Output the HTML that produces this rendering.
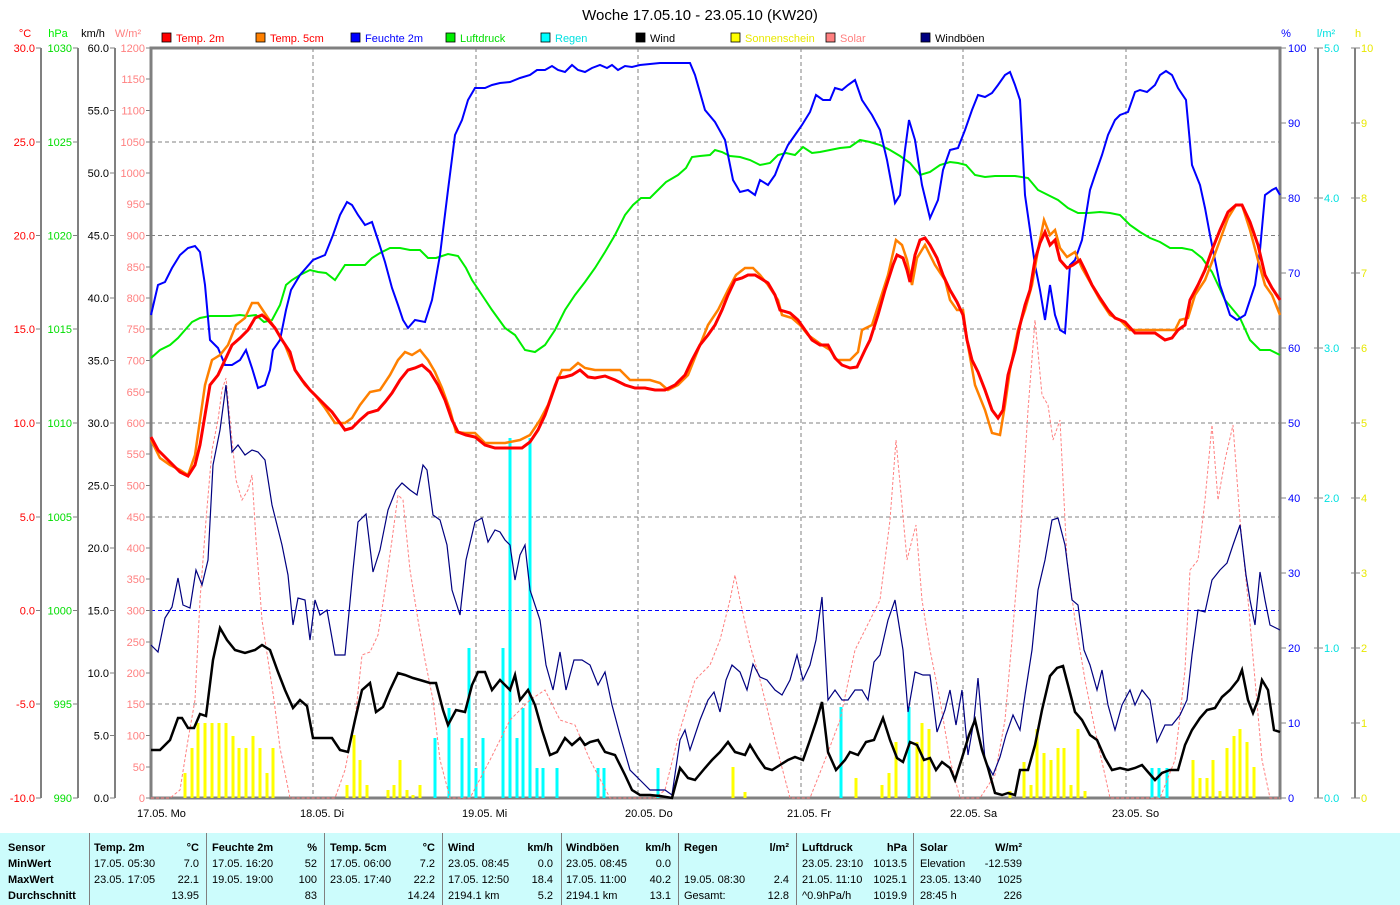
<!DOCTYPE html>
<html><head><meta charset="utf-8"><style>
html,body{margin:0;padding:0;background:#fff;}
svg{display:block;font-family:"Liberation Sans",sans-serif;}
</style></head><body>
<svg width="1400" height="905" viewBox="0 0 1400 905" xmlns="http://www.w3.org/2000/svg">
<rect width="1400" height="905" fill="#fff"/>
<text x="700" y="20" font-size="15" text-anchor="middle" fill="#000">Woche 17.05.10 - 23.05.10 (KW20)</text>
<!-- axis titles -->
<g font-size="11">
<text x="25" y="37" fill="#ff0000" text-anchor="middle">°C</text>
<text x="58" y="37" fill="#00ee00" text-anchor="middle">hPa</text>
<text x="93" y="37" fill="#000" text-anchor="middle">km/h</text>
<text x="128" y="37" fill="#ff8080" text-anchor="middle">W/m²</text>
<text x="1286" y="37" fill="#0000ff" text-anchor="middle">%</text>
<text x="1326" y="37" fill="#00e0e0" text-anchor="middle">l/m²</text>
<text x="1358" y="37" fill="#e8e800" text-anchor="middle">h</text>
</g>
<!-- legend -->
<g font-size="11">
<rect x="162" y="33" width="9" height="9" fill="#ff0000" stroke="#000" stroke-width="0.8"/><text x="176" y="42" fill="#ff0000">Temp. 2m</text>
<rect x="256" y="33" width="9" height="9" fill="#ff8000" stroke="#000" stroke-width="0.8"/><text x="270" y="42" fill="#ff0000">Temp. 5cm</text>
<rect x="351" y="33" width="9" height="9" fill="#0000ff" stroke="#000" stroke-width="0.8"/><text x="365" y="42" fill="#0000ff">Feuchte 2m</text>
<rect x="446" y="33" width="9" height="9" fill="#00ee00" stroke="#000" stroke-width="0.8"/><text x="460" y="42" fill="#00dd00">Luftdruck</text>
<rect x="541" y="33" width="9" height="9" fill="#00ffff" stroke="#000" stroke-width="0.8"/><text x="555" y="42" fill="#00e0e0">Regen</text>
<rect x="636" y="33" width="9" height="9" fill="#000" stroke="#000" stroke-width="0.8"/><text x="650" y="42" fill="#000">Wind</text>
<rect x="731" y="33" width="9" height="9" fill="#ffff00" stroke="#000" stroke-width="0.8"/><text x="745" y="42" fill="#e8e800">Sonnenschein</text>
<rect x="826" y="33" width="9" height="9" fill="#ff8080" stroke="#000" stroke-width="0.8"/><text x="840" y="42" fill="#ff8080">Solar</text>
<rect x="921" y="33" width="9" height="9" fill="#000080" stroke="#000" stroke-width="0.8"/><text x="935" y="42" fill="#000">Windböen</text>
</g>
<!-- grid -->
<g stroke="#808080" stroke-width="1" stroke-dasharray="4,3">
<line x1="313" y1="48" x2="313" y2="798"/><line x1="476" y1="48" x2="476" y2="798"/><line x1="638" y1="48" x2="638" y2="798"/><line x1="801" y1="48" x2="801" y2="798"/><line x1="963" y1="48" x2="963" y2="798"/><line x1="1126" y1="48" x2="1126" y2="798"/>
<line x1="151" y1="142" x2="1280" y2="142"/><line x1="151" y1="235.5" x2="1280" y2="235.5"/><line x1="151" y1="329" x2="1280" y2="329"/><line x1="151" y1="423" x2="1280" y2="423"/><line x1="151" y1="517" x2="1280" y2="517"/><line x1="151" y1="704" x2="1280" y2="704"/>
</g>
<line x1="151" y1="610.5" x2="1280" y2="610.5" stroke="#0000ff" stroke-width="1" stroke-dasharray="4,3"/>
<!-- axes -->
<g stroke="#808080" stroke-width="2" fill="none">
<line x1="41" y1="48" x2="41" y2="798"/><line x1="78" y1="48" x2="78" y2="798"/><line x1="115" y1="48" x2="115" y2="798"/>
<line x1="1318" y1="48" x2="1318" y2="798"/><line x1="1355" y1="48" x2="1355" y2="798"/>
</g>
<rect x="151" y="48" width="1129" height="750" fill="none" stroke="#808080" stroke-width="3"/>
<!-- ticks -->
<g stroke="#808080" stroke-width="1">
<path d="M36 48h5M36 142h5M36 235.5h5M36 329h5M36 423h5M36 517h5M36 610.5h5M36 704h5M36 798h5"/>
<path d="M73 48h5M73 142h5M73 235.5h5M73 329h5M73 423h5M73 517h5M73 610.5h5M73 704h5M73 798h5"/>
<path d="M110 48h5M110 110.5h5M110 173h5M110 235.5h5M110 298h5M110 360.5h5M110 423h5M110 485.5h5M110 548h5M110 610.5h5M110 673h5M110 735.5h5M110 798h5"/>
<path d="M146 48h5M146 79h5M146 110.5h5M146 142h5M146 173h5M146 204h5M146 235.5h5M146 267h5M146 298h5M146 329h5M146 360.5h5M146 392h5M146 423h5M146 454h5M146 485.5h5M146 517h5M146 548h5M146 579h5M146 610.5h5M146 642h5M146 673h5M146 704h5M146 735.5h5M146 767h5M146 798h5"/>
<path d="M1280 48h6M1280 123h6M1280 198h6M1280 273h6M1280 348h6M1280 423h6M1280 498h6M1280 573h6M1280 648h6M1280 723h6M1280 798h6"/>
<path d="M1314 48h9M1314 198h9M1314 348h9M1314 498h9M1314 648h9M1314 798h9"/>
<path d="M1351 48h9M1351 123h9M1351 198h9M1351 273h9M1351 348h9M1351 423h9M1351 498h9M1351 573h9M1351 648h9M1351 723h9M1351 798h9"/>
</g>
<!-- tick labels -->
<g font-size="11" text-anchor="end" fill="#ff0000">
<text x="35" y="52">30.0</text><text x="35" y="146">25.0</text><text x="35" y="239.5">20.0</text><text x="35" y="333">15.0</text><text x="35" y="427">10.0</text><text x="35" y="521">5.0</text><text x="35" y="614.5">0.0</text><text x="35" y="708">-5.0</text><text x="35" y="802">-10.0</text>
</g>
<g font-size="11" text-anchor="end" fill="#00dd00">
<text x="72" y="52">1030</text><text x="72" y="146">1025</text><text x="72" y="239.5">1020</text><text x="72" y="333">1015</text><text x="72" y="427">1010</text><text x="72" y="521">1005</text><text x="72" y="614.5">1000</text><text x="72" y="708">995</text><text x="72" y="802">990</text>
</g>
<g font-size="11" text-anchor="end" fill="#000">
<text x="109" y="52">60.0</text><text x="109" y="114.5">55.0</text><text x="109" y="177">50.0</text><text x="109" y="239.5">45.0</text><text x="109" y="302">40.0</text><text x="109" y="364.5">35.0</text><text x="109" y="427">30.0</text><text x="109" y="489.5">25.0</text><text x="109" y="552">20.0</text><text x="109" y="614.5">15.0</text><text x="109" y="677">10.0</text><text x="109" y="739.5">5.0</text><text x="109" y="802">0.0</text>
</g>
<g font-size="11" text-anchor="end" fill="#ff8080">
<text x="145" y="52">1200</text><text x="145" y="83">1150</text><text x="145" y="114.5">1100</text><text x="145" y="146">1050</text><text x="145" y="177">1000</text><text x="145" y="208">950</text><text x="145" y="239.5">900</text><text x="145" y="271">850</text><text x="145" y="302">800</text><text x="145" y="333">750</text><text x="145" y="364.5">700</text><text x="145" y="396">650</text><text x="145" y="427">600</text><text x="145" y="458">550</text><text x="145" y="489.5">500</text><text x="145" y="521">450</text><text x="145" y="552">400</text><text x="145" y="583">350</text><text x="145" y="614.5">300</text><text x="145" y="646">250</text><text x="145" y="677">200</text><text x="145" y="708">150</text><text x="145" y="739.5">100</text><text x="145" y="771">50</text><text x="145" y="802">0</text>
</g>
<g font-size="11" fill="#0000ff">
<text x="1288" y="52">100</text><text x="1288" y="127">90</text><text x="1288" y="202">80</text><text x="1288" y="277">70</text><text x="1288" y="352">60</text><text x="1288" y="427">50</text><text x="1288" y="502">40</text><text x="1288" y="577">30</text><text x="1288" y="652">20</text><text x="1288" y="727">10</text><text x="1288" y="802">0</text>
</g>
<g font-size="11" fill="#00e0e0">
<text x="1324" y="52">5.0</text><text x="1324" y="202">4.0</text><text x="1324" y="352">3.0</text><text x="1324" y="502">2.0</text><text x="1324" y="652">1.0</text><text x="1324" y="802">0.0</text>
</g>
<g font-size="11" fill="#e8e800">
<text x="1361" y="52">10</text><text x="1361" y="127">9</text><text x="1361" y="202">8</text><text x="1361" y="277">7</text><text x="1361" y="352">6</text><text x="1361" y="427">5</text><text x="1361" y="502">4</text><text x="1361" y="577">3</text><text x="1361" y="652">2</text><text x="1361" y="727">1</text><text x="1361" y="802">0</text>
</g>
<!-- day labels -->
<g font-size="11" fill="#000">
<text x="137" y="817">17.05.  Mo</text><text x="300" y="817">18.05.  Di</text><text x="462" y="817">19.05.  Mi</text><text x="625" y="817">20.05.  Do</text><text x="787" y="817">21.05.  Fr</text><text x="950" y="817">22.05.  Sa</text><text x="1112" y="817">23.05.  So</text>
</g>
<!-- sunshine bars -->
<g stroke="#ffff00" stroke-width="3">
<path d="M185 798V773M192 798V748M198 798V723M205 798V723M212 798V723M219 798V723M226 798V723M233 798V736M239 798V748M246 798V748M253 798V736M260 798V748M267 798V773M273 798V748"/>
<path d="M347 798V785M354 798V735M360 798V760M367 798V785M388 798V790M394 798V785M400 798V760M407 798V790M413 798V795M420 798V785"/>
<path d="M733 798V767M745 798V792"/>
<path d="M856 798V778M882 798V785M889 798V773M896 798V742M917 798V742M922 798V723M929 798V729"/>
<path d="M1010 798V791M1024 798V762M1031 798V785M1037 798V729M1044 798V753M1051 798V760M1058 798V748M1064 798V748M1071 798V785M1078 798V729M1085 798V791"/>
<path d="M1193 798V760M1200 798V778M1207 798V778M1213 798V760M1220 798V791M1227 798V748M1234 798V736M1240 798V729M1247 798V742M1254 798V767"/>
</g>
<!-- rain bars -->
<g stroke="#00ffff" stroke-width="3">
<path d="M435 798V738M449 798V708M462 798V738M469 798V648M476 798V768M483 798V738M503 798V648M510 798V438M517 798V738M523 798V708M530 798V438M537 798V768M543 798V768M557 798V768M598 798V768M604 798V768M658 798V768M841 798V707M909 798V707M1152 798V768M1159 798V768M1167 798V768"/>
</g>
<!-- solar -->
<polyline fill="none" stroke="#ff8080" stroke-width="1" stroke-dasharray="3,2" points="151,798 170,798 180,790 188,740 195,700 200,600 206,520 212,450 218,420 222,390 226,378 230,420 236,480 242,500 248,490 252,475 256,540 262,620 268,660 274,700 280,748 290,798 335,798 345,770 355,720 362,655 370,652 378,635 385,590 392,540 398,495 403,500 410,570 418,620 425,660 433,700 440,760 450,798 470,798 490,760 510,720 530,700 545,690 560,720 575,725 590,760 610,798 655,798 665,790 680,730 695,680 710,665 720,640 730,600 735,575 740,600 750,645 760,680 770,720 780,760 790,798 810,798 825,760 840,720 855,650 870,620 880,600 890,520 896,440 902,505 907,560 912,540 916,525 922,600 930,650 940,700 950,760 960,798 980,798 995,775 1005,720 1012,640 1020,540 1028,410 1035,320 1042,395 1048,405 1053,440 1060,420 1067,560 1075,620 1085,680 1095,730 1110,798 1160,798 1175,760 1185,670 1190,570 1198,560 1205,500 1212,425 1218,500 1225,460 1233,425 1240,520 1248,600 1255,680 1262,760 1270,798 1280,798"/>
<!-- windboeen -->
<polyline fill="none" stroke="#000080" stroke-width="1.2" points="151,645 158,652 165,618 172,607 178,578 183,605 190,608 196,570 202,585 208,560 213,465 220,430 226,385 232,452 238,445 245,455 252,450 258,452 265,460 272,505 282,545 288,575 293,625 298,598 305,600 310,640 315,600 320,615 327,610 335,655 345,655 353,570 358,522 366,514 373,572 380,550 388,510 396,490 402,483 410,490 417,495 423,465 427,470 433,515 440,520 447,545 452,590 460,615 466,560 475,522 482,518 488,542 495,530 500,532 505,540 510,545 515,580 520,555 525,545 530,590 540,620 546,665 553,690 560,652 566,690 574,660 582,660 590,665 598,685 605,672 612,705 620,735 630,770 640,780 650,790 665,790 672,795 680,740 685,730 690,750 700,720 708,700 714,692 720,712 726,680 732,665 740,672 747,690 753,664 760,677 767,680 775,690 782,695 790,680 797,655 803,680 810,665 816,640 822,597 828,700 835,690 842,700 848,700 855,690 862,690 868,700 874,662 880,655 888,620 895,600 903,650 908,712 915,672 923,675 930,675 937,732 945,710 950,690 956,725 962,690 968,755 974,720 978,678 985,760 993,775 1000,757 1006,735 1013,715 1020,730 1025,695 1032,650 1038,590 1045,560 1052,520 1058,518 1065,545 1072,600 1078,605 1084,650 1090,665 1097,690 1102,670 1108,705 1115,730 1122,705 1130,690 1135,705 1142,690 1150,700 1157,742 1165,725 1172,725 1180,715 1187,700 1192,655 1198,610 1205,612 1212,580 1220,570 1227,563 1233,545 1240,525 1246,575 1250,600 1255,625 1260,572 1265,600 1270,625 1280,630"/>
<!-- wind -->
<polyline fill="none" stroke="#000" stroke-width="2.5" points="151,750 160,750 170,740 178,718 182,718 188,728 194,728 200,714 206,716 213,660 220,628 227,640 235,650 245,653 255,650 262,645 270,650 278,672 285,690 293,708 300,700 307,706 313,738 322,738 332,738 340,750 348,752 355,720 362,690 370,683 376,712 383,707 390,690 398,673 405,675 413,678 420,680 430,683 436,683 443,710 448,725 456,710 465,712 472,685 478,672 485,672 492,690 500,680 510,690 515,675 520,700 528,690 535,705 542,730 550,755 557,752 565,738 572,745 580,738 585,745 590,742 598,740 605,752 615,755 625,775 632,790 640,795 650,795 660,796 672,798 680,768 688,778 695,780 705,768 712,760 720,752 728,742 735,752 745,755 750,745 758,758 765,768 772,770 780,765 788,760 795,757 803,760 810,740 816,722 822,702 828,752 836,770 845,760 850,752 858,755 866,742 874,740 883,718 890,740 897,758 903,762 910,742 917,745 924,760 930,758 936,770 942,762 950,768 955,780 962,758 969,735 975,720 982,750 988,768 995,793 1002,795 1008,793 1015,795 1020,770 1028,770 1035,745 1042,710 1050,676 1057,668 1063,666 1068,685 1075,712 1082,720 1090,735 1097,740 1105,758 1112,770 1120,768 1128,770 1135,768 1142,765 1148,772 1155,780 1162,773 1170,770 1178,770 1185,745 1192,730 1200,718 1207,710 1215,708 1222,697 1230,690 1238,680 1242,670 1248,700 1253,713 1258,700 1262,680 1268,690 1274,730 1280,732"/>
<!-- pressure -->
<polyline fill="none" stroke="#00ee00" stroke-width="2" points="151,358 160,350 170,345 178,338 185,330 192,322 200,318 210,316 220,316 230,316 240,315 248,316 256,315 264,322 272,320 280,305 286,285 292,280 300,275 310,270 318,272 326,273 335,280 345,265 355,265 365,265 372,258 380,253 390,248 400,248 410,250 420,250 428,258 436,258 448,254 458,256 466,268 472,280 482,295 492,310 505,328 515,335 525,350 535,352 545,345 555,330 565,310 575,295 585,282 595,268 605,252 615,235 625,215 633,205 641,198 650,198 658,190 666,182 678,175 686,168 692,157 700,156 710,155 715,150 722,152 730,156 740,157 750,160 760,165 770,163 778,155 786,153 795,155 803,147 812,153 820,152 830,150 840,148 850,147 860,140 870,142 880,145 890,150 900,156 910,163 920,175 930,172 940,165 950,162 958,163 966,165 975,175 985,177 995,176 1005,176 1015,176 1028,178 1038,190 1048,195 1058,200 1068,208 1078,213 1088,213 1100,212 1110,213 1120,215 1130,225 1140,232 1150,238 1160,242 1170,248 1182,248 1192,250 1202,258 1212,272 1225,300 1240,318 1250,340 1260,350 1270,350 1280,355"/>
<!-- humidity -->
<polyline fill="none" stroke="#0000ff" stroke-width="2" points="151,315 158,285 165,282 172,268 180,255 188,248 195,246 200,252 205,285 210,340 218,348 225,365 232,365 240,360 246,350 252,368 258,388 265,385 270,370 273,350 280,340 286,310 291,290 300,275 313,260 325,255 333,235 340,215 347,202 352,205 358,215 365,225 372,222 378,240 385,262 392,288 398,305 403,320 408,328 415,320 425,322 432,300 440,255 448,190 455,135 462,120 468,100 475,88 485,88 492,85 500,83 510,82 520,78 530,75 537,70 545,70 552,66 558,70 565,72 572,65 578,70 585,72 592,68 600,65 607,68 612,65 618,70 625,66 632,67 640,65 650,64 660,63 690,63 695,75 705,110 715,122 725,140 733,180 740,192 748,190 755,195 760,180 768,185 775,175 780,162 788,145 795,135 802,125 810,112 816,95 823,100 830,100 835,88 842,90 848,85 855,80 862,100 872,115 880,130 887,160 895,203 900,195 905,150 909,120 915,140 922,185 930,218 938,200 943,170 950,150 958,148 965,130 972,110 978,95 985,97 992,93 998,85 1005,75 1010,72 1015,85 1020,100 1025,195 1030,230 1035,265 1040,290 1045,320 1050,285 1055,315 1060,330 1065,333 1070,265 1075,260 1082,240 1090,190 1095,175 1102,155 1108,135 1115,120 1120,115 1128,112 1135,92 1140,90 1147,92 1155,85 1160,75 1166,71 1172,75 1178,88 1186,100 1192,165 1200,185 1205,208 1210,235 1215,260 1220,285 1225,300 1230,315 1237,320 1245,315 1250,300 1255,285 1260,250 1265,195 1272,190 1276,188 1280,195"/>
<!-- temp 5cm -->
<polyline fill="none" stroke="#ff8000" stroke-width="2.5" points="151,440 160,458 170,465 180,470 188,475 195,455 200,420 205,385 212,360 220,355 228,345 236,325 245,318 252,303 258,303 266,315 275,328 285,345 295,370 305,385 315,395 325,408 335,423 345,423 352,418 360,405 370,392 380,390 390,375 398,360 405,352 412,355 420,350 428,360 435,372 442,388 450,410 456,432 465,433 475,433 485,443 505,443 520,440 530,435 540,420 548,405 555,385 562,370 570,370 578,363 585,368 595,370 620,370 630,380 650,380 660,383 668,390 678,385 688,375 698,350 708,325 718,310 728,290 736,275 745,268 753,268 760,275 768,285 778,300 782,315 792,318 800,325 808,335 815,340 822,345 830,350 837,360 850,360 858,352 862,330 872,325 880,300 888,275 896,240 902,245 907,260 912,285 917,258 925,245 935,265 945,280 950,300 957,310 963,310 967,340 975,385 985,410 992,433 1000,435 1005,405 1010,370 1018,330 1025,310 1032,285 1038,250 1044,220 1050,235 1055,230 1060,248 1067,257 1075,252 1082,268 1090,282 1100,300 1110,315 1120,320 1130,330 1175,330 1180,320 1188,318 1195,295 1205,280 1212,262 1220,240 1228,218 1236,205 1242,205 1250,230 1258,260 1265,285 1272,295 1280,315"/>
<!-- temp 2m -->
<polyline fill="none" stroke="#ff0000" stroke-width="3" points="151,437 158,450 165,457 172,464 180,472 188,476 195,465 200,445 205,415 210,385 218,375 225,360 232,345 240,338 248,330 255,318 262,315 268,320 275,328 282,340 290,352 295,370 302,380 310,390 318,398 325,405 332,412 340,423 345,430 352,428 360,420 368,413 378,410 385,402 392,393 400,380 408,370 415,368 422,365 430,372 438,385 445,400 452,420 458,432 466,435 475,437 485,445 495,448 505,448 515,448 522,448 530,442 538,430 545,415 552,395 558,378 565,377 572,375 580,370 588,377 595,378 605,376 615,380 625,385 635,388 645,388 655,390 665,390 675,385 685,375 692,360 700,345 708,335 715,325 722,310 728,295 735,280 742,278 748,275 755,275 760,278 768,283 775,295 780,310 790,313 798,320 805,330 812,340 820,345 828,345 835,358 842,365 850,368 857,367 865,350 870,340 878,315 885,290 893,265 897,255 903,258 907,270 910,282 915,255 920,240 925,238 930,245 937,258 943,275 950,290 957,302 963,315 967,340 972,360 978,372 985,390 992,410 998,418 1003,410 1008,375 1015,350 1020,325 1025,305 1030,290 1035,260 1040,243 1045,232 1050,245 1055,240 1060,260 1067,268 1073,265 1080,260 1085,270 1092,285 1100,298 1108,310 1115,318 1125,322 1135,333 1145,333 1155,333 1165,340 1172,338 1178,330 1185,325 1190,300 1198,285 1205,270 1212,250 1220,230 1228,212 1236,205 1242,205 1250,222 1258,245 1265,275 1272,288 1280,300"/>
<!-- table -->
<rect x="0" y="833" width="1400" height="72" fill="#ccfcfc"/>
<g stroke="#808080" stroke-width="1">
<path d="M89.5 833V905M206.5 833V905M324.5 833V905M442.5 833V905M561.5 833V905M678.5 833V905M796.5 833V905M913.5 833V905"/>
</g>
<g font-size="11" fill="#000">
<g font-weight="bold">
<text x="8" y="851">Sensor</text><text x="8" y="867">MinWert</text><text x="8" y="883">MaxWert</text><text x="8" y="899">Durchschnitt</text>
<text x="94" y="851">Temp. 2m</text><text x="199" y="851" text-anchor="end">°C</text>
<text x="212" y="851">Feuchte 2m</text><text x="317" y="851" text-anchor="end">%</text>
<text x="330" y="851">Temp. 5cm</text><text x="435" y="851" text-anchor="end">°C</text>
<text x="448" y="851">Wind</text><text x="553" y="851" text-anchor="end">km/h</text>
<text x="566" y="851">Windböen</text><text x="671" y="851" text-anchor="end">km/h</text>
<text x="684" y="851">Regen</text><text x="789" y="851" text-anchor="end">l/m²</text>
<text x="802" y="851">Luftdruck</text><text x="907" y="851" text-anchor="end">hPa</text>
<text x="920" y="851">Solar</text><text x="1022" y="851" text-anchor="end">W/m²</text>
</g>
<text x="94" y="867">17.05.  05:30</text><text x="199" y="867" text-anchor="end">7.0</text>
<text x="94" y="883">23.05.  17:05</text><text x="199" y="883" text-anchor="end">22.1</text>
<text x="199" y="899" text-anchor="end">13.95</text>
<text x="212" y="867">17.05.  16:20</text><text x="317" y="867" text-anchor="end">52</text>
<text x="212" y="883">19.05.  19:00</text><text x="317" y="883" text-anchor="end">100</text>
<text x="317" y="899" text-anchor="end">83</text>
<text x="330" y="867">17.05.  06:00</text><text x="435" y="867" text-anchor="end">7.2</text>
<text x="330" y="883">23.05.  17:40</text><text x="435" y="883" text-anchor="end">22.2</text>
<text x="435" y="899" text-anchor="end">14.24</text>
<text x="448" y="867">23.05.  08:45</text><text x="553" y="867" text-anchor="end">0.0</text>
<text x="448" y="883">17.05.  12:50</text><text x="553" y="883" text-anchor="end">18.4</text>
<text x="448" y="899">2194.1 km</text><text x="553" y="899" text-anchor="end">5.2</text>
<text x="566" y="867">23.05.  08:45</text><text x="671" y="867" text-anchor="end">0.0</text>
<text x="566" y="883">17.05.  11:00</text><text x="671" y="883" text-anchor="end">40.2</text>
<text x="566" y="899">2194.1 km</text><text x="671" y="899" text-anchor="end">13.1</text>
<text x="684" y="883">19.05.  08:30</text><text x="789" y="883" text-anchor="end">2.4</text>
<text x="684" y="899">Gesamt:</text><text x="789" y="899" text-anchor="end">12.8</text>
<text x="802" y="867">23.05.  23:10</text><text x="907" y="867" text-anchor="end">1013.5</text>
<text x="802" y="883">21.05.  11:10</text><text x="907" y="883" text-anchor="end">1025.1</text>
<text x="802" y="899">^0.9hPa/h</text><text x="907" y="899" text-anchor="end">1019.9</text>
<text x="920" y="867">Elevation</text><text x="1022" y="867" text-anchor="end">-12.539</text>
<text x="920" y="883">23.05.  13:40</text><text x="1022" y="883" text-anchor="end">1025</text>
<text x="920" y="899">28:45 h</text><text x="1022" y="899" text-anchor="end">226</text>
</g>
</svg>
</body></html>
